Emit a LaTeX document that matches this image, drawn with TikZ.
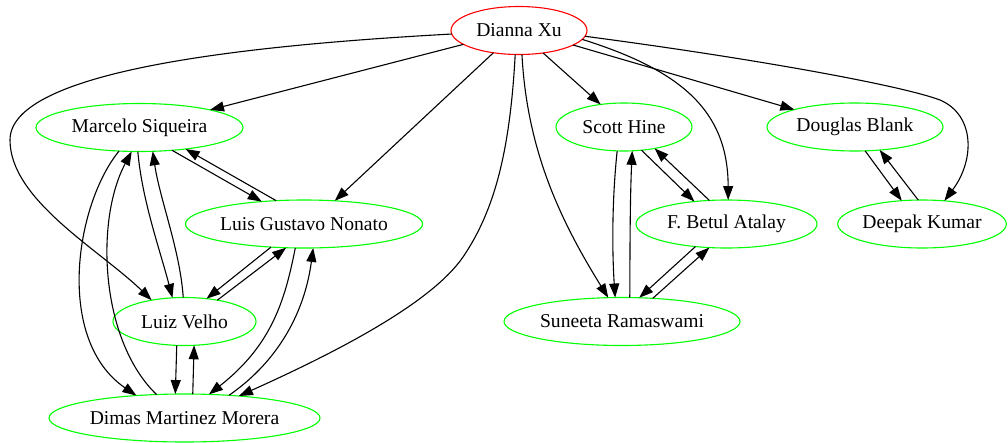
\documentclass[tikz,border=0pt]{standalone}
\usepackage{fontspec}
\setmainfont{Liberation Serif}
\usetikzlibrary{arrows.meta,shapes.geometric}
\begin{document}
\begin{tikzpicture}[x=1pt,y=-1pt,
  person/.style={ellipse,draw=green,line width=1.1pt,minimum height=48pt,
    inner sep=0pt,outer sep=0pt,font=\fontsize{19.6}{23}\selectfont},
  root/.style={person,draw=red},
  link/.style={-{Triangle[length=14pt,width=10pt]},line width=1.1pt,black}]
\useasboundingbox (0,0) rectangle (1008,442);

\node[root,minimum width=136pt]   (dx) at (519,30.5)  {Dianna Xu};
\node[person,minimum width=207pt] (ms) at (139.5,127.5) {Marcelo Siqueira};
\node[person,minimum width=232pt] (lg) at (304,224)   {Luis Gustavo Nonato};
\node[person,minimum width=143pt] (lv) at (184.5,321.5) {Luiz Velho};
\node[person,minimum width=271pt] (dm) at (184.5,418) {Dimas Martinez Morera};
\node[person,minimum width=136pt] (sh) at (624,127)   {Scott Hine};
\node[person,minimum width=181pt] (fb) at (726.5,224) {F. Betul Atalay};
\node[person,minimum width=236pt] (sr) at (622,321.5) {Suneeta Ramaswami};
\node[person,minimum width=176pt] (db) at (855,127)   {Douglas Blank};
\node[person,minimum width=162pt] (dk) at (922,224)   {Deepak Kumar};

% from Dianna Xu
\draw[link] (dx.194) -- (ms.14);
\draw[link] (dx.221) -- (lg.37);
\draw[link] (dx.317) -- (sh.136);
\draw[link] (dx.345) -- (db.164);
\draw[link] (dx.183) .. controls (250,45) and (10,70) .. (10,140)
  .. controls (10,200) and (100,250) .. (lv.147);
\draw[link] (dx.261) .. controls (510,150) and (495,210) .. (463,257)
  .. controls (430,305) and (330,355) .. (dm.22.5);
\draw[link] (dx.277) .. controls (527,150) and (560,220) .. (sr.120);
\draw[link] (dx.352) .. controls (680,70) and (728,110) .. (fb.86);
\draw[link] (dx.355) .. controls (750,58) and (900,85) .. (940,100)
  .. controls (975,115) and (975,160) .. (dk.46);

% left cluster
\draw[link] (ms.325) -- (lg.152);
\draw[link] (lg.140) -- (ms.335);
\draw[link] (ms.266) .. controls (142,200) and (160,250) .. (lv.117);
\draw[link] (lv.93.5) .. controls (180,250) and (160,200) .. (ms.299);
\draw[link] (ms.229) .. controls (75,205) and (55,340) .. (dm.155);
\draw[link] (dm.140) .. controls (100,340) and (95,220) .. (ms.252);
\draw[link] (lg.215) -- (lv.46);
\draw[link] (lv.33) -- (lg.233);
\draw[link] (lg.250) .. controls (285,300) and (272,345) .. (dm.44);
\draw[link] (dm.27) .. controls (280,360) and (305,310) .. (lg.291);
\draw[link] (lv.252) -- (dm.111);
\draw[link] (dm.71) -- (lv.292);

% right cluster
\draw[link] (sh.307) -- (fb.145);
\draw[link] (fb.126) -- (sh.325);
\draw[link] (sh.254) .. controls (612,200) and (612,250) .. (sr.106);
\draw[link] (sr.72) .. controls (630,250) and (630,200) .. (sh.289);
\draw[link] (fb.216) -- (sr.54);
\draw[link] (sr.37) -- (fb.234);
\draw[link] (db.293) -- (dk.131);
\draw[link] (dk.99) -- (db.317);
\end{tikzpicture}
\end{document}
